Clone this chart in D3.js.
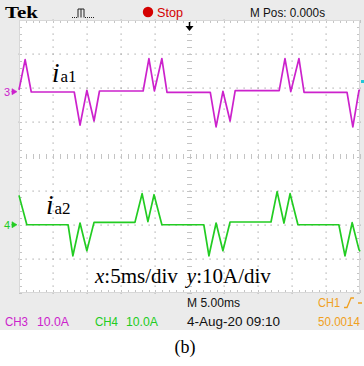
<!DOCTYPE html>
<html><head><meta charset="utf-8">
<script src="https://cdn.jsdelivr.net/npm/d3@7"></script>
<style>html,body{margin:0;padding:0;background:#fff;} svg{display:block;}</style>
</head><body>
<script>
// Horizontal: 5 ms/div over 10 divisions; vertical: 8 divisions
const timeTicks = [0, 5, 10, 15, 20, 25, 30, 35, 40, 45, 50];
const divTicks = [-4, -3, -2, -1, 0, 1, 2, 3, 4];

// CH3 trace, i_a1 (time in ms, current in A)
const ia1Time = [0, 0.9, 1.8, 2.0, 8.1, 8.95, 9.95, 11.0, 11.8, 12.0, 18.2, 19.05, 19.85, 20.95, 21.7, 22.0,
  28.05, 28.9, 29.9, 30.95, 31.7, 32.0, 38.15, 39.0, 39.85, 41.05, 41.8, 42.0, 48.1, 48.95, 49.85, 50];
const ia1Amp = [0.5, 9.4, -0.1, -0.1, -0.1, -9.8, 0.4, -8.6, 0.2, 0.2, 0.2, 9.7, 0.2, 9.7, -0.2, -0.2,
  -0.2, -10.3, 0.1, -8.6, 0.3, 0.3, 0.3, 9.7, 0, 9.7, -0.2, -0.2, -0.2, -10.3, 0.4, 0.3];

// CH4 trace, i_a2 (time in ms, current in A)
const ia2Time = [0, 1.15, 7.2, 7.9, 8.95, 9.95, 11.0, 17.0, 18.05, 18.9, 19.8, 20.95, 27.1, 27.85, 28.9, 29.9, 30.95,
  36.95, 37.85, 38.85, 39.75, 40.9, 46.9, 47.8, 48.85, 49.85, 50];
const ia2Amp = [8.6, 0, 0, -9.1, 0.5, -7.6, 0.7, 0.7, 9.1, 0.9, 8.8, 0, 0, -9.1, 0.5, -7.6, 0.8,
  0.8, 9.7, 0.5, 9.1, 0, 0, -9.1, 0.6, -7.3, -7.8];

const channelNames = ["CH3", "CH4"];
const channelAmpsPerDiv = [10, 10];
const channelPosition = [1.9, -2.0];
const channelColors = ["#cc22cc", "#22cc22"];

const W = 364, H = 366;
const svg = d3.select("body").append("svg").attr("width", W).attr("height", H);

// Instrument panel background
svg.append("rect").attr("x", 0).attr("y", 0).attr("width", W).attr("height", 330).attr("fill", "#ebebeb");

const x = d3.scaleLinear().domain([0, 50]).range([19, 360]);
const y = d3.scaleLinear().domain([-4, 4]).range([293, 20]);

svg.append("rect").attr("x", x(0)).attr("y", y(4)).attr("width", x(50) - x(0)).attr("height", y(-4) - y(4)).attr("fill", "#fff");

const grid = svg.append("g");
const minorT = d3.range(0, 50.001, 1);
const minorD = d3.range(-4, 4.001, 0.2);
const dotCol = "#a8a8a8", tickCol = "#c4c4c4";

// Dotted major lines
timeTicks.slice(1, -1).filter(t => t !== 25).forEach(t => {
  minorD.forEach(d => grid.append("rect").attr("x", Math.round(x(t)) - 0.5).attr("y", Math.round(y(d)) - 0.5)
    .attr("width", 1.2).attr("height", 1.2).attr("fill", dotCol));
});
divTicks.slice(1, -1).filter(d => d !== 0).forEach(d => {
  minorT.forEach(t => grid.append("rect").attr("x", Math.round(x(t)) - 0.5).attr("y", Math.round(y(d)) - 0.5)
    .attr("width", 1.2).attr("height", 1.2).attr("fill", dotCol));
});

// Centre cross with minor ticks
minorD.forEach(d => grid.append("line").attr("x1", x(25) - 2.5).attr("x2", x(25) + 2.5)
  .attr("y1", Math.round(y(d)) + 0.5).attr("y2", Math.round(y(d)) + 0.5).attr("stroke", tickCol));
minorT.forEach(t => grid.append("line").attr("x1", Math.round(x(t)) + 0.5).attr("x2", Math.round(x(t)) + 0.5)
  .attr("y1", y(0) - 2.5).attr("y2", y(0) + 2.5).attr("stroke", tickCol));

// Frame ticks
minorT.forEach(t => {
  const xx = Math.round(x(t)) + 0.5;
  grid.append("line").attr("x1", xx).attr("x2", xx).attr("y1", y(4)).attr("y2", y(4) + 3).attr("stroke", tickCol);
  grid.append("line").attr("x1", xx).attr("x2", xx).attr("y1", y(-4) - 3).attr("y2", y(-4)).attr("stroke", tickCol);
});
minorD.forEach(d => {
  const yy = Math.round(y(d)) + 0.5;
  grid.append("line").attr("x1", x(0)).attr("x2", x(0) + 3).attr("y1", yy).attr("y2", yy).attr("stroke", tickCol);
  grid.append("line").attr("x1", x(50) - 3).attr("x2", x(50)).attr("y1", yy).attr("y2", yy).attr("stroke", tickCol);
});
grid.append("rect").attr("x", x(0) + 0.5).attr("y", y(4) + 0.5).attr("width", x(50) - x(0) - 1).attr("height", y(-4) - y(4) - 1)
  .attr("fill", "none").attr("stroke", "#d8d8d8");

// Traces
const traces = [
  ia1Time.map((t, i) => ({ t, a: ia1Amp[i] })),
  ia2Time.map((t, i) => ({ t, a: ia2Amp[i] }))
];
traces.forEach((data, c) => {
  const line = d3.line().x(d => x(d.t)).y(d => y(d.a / channelAmpsPerDiv[c] + channelPosition[c]));
  svg.append("path").datum(data).attr("d", line).attr("fill", "none")
    .attr("stroke", channelColors[c]).attr("stroke-width", 1.7).attr("stroke-linejoin", "round");
  // channel ground marker
  const yy = y(channelPosition[c]);
  svg.append("text").attr("x", 4).attr("y", yy + 4).attr("font-family", "Liberation Sans, Arial, sans-serif")
    .attr("font-size", 11).attr("fill", channelColors[c]).text(channelNames[c].slice(2));
  svg.append("path").attr("d", `M12,${yy - 3}L17,${yy}L12,${yy + 3}Z M11,${yy}H13`).attr("fill", channelColors[c])
    .attr("stroke", channelColors[c]).attr("stroke-width", 0.6);
});

// Trigger position arrow and level marker
svg.append("path").attr("d", `M${x(25)},${y(4) + 2}V${y(4) + 7}`).attr("stroke", "#000").attr("stroke-width", 1.5);
svg.append("path").attr("d", `M${x(25) - 4},${y(4) + 6}H${x(25) + 4}L${x(25)},${y(4) + 11}Z`).attr("fill", "#000");
svg.append("rect").attr("x", 361).attr("y", 80).attr("width", 3).attr("height", 3).attr("fill", "#22c8d8");

// Header
const sans = "Liberation Sans, Arial, sans-serif";
const serif = "Liberation Serif, Times New Roman, serif";
svg.append("text").attr("x", 5).attr("y", 18).attr("font-family", serif).attr("font-weight", "bold")
  .attr("font-size", 17).attr("textLength", 33).attr("lengthAdjust", "spacingAndGlyphs").text("Tek");
svg.append("path").attr("d", "M72,17.5H73M74,17.5H75M76,17.5H77M78,17.5V9H81V17.5M81,9H84V17.5M85,17.5H86M87,17.5H88M89,17.5H90M91,17.5H92M93,17.5H94")
  .attr("fill", "none").attr("stroke", "#222").attr("stroke-width", 1);
svg.append("circle").attr("cx", 148).attr("cy", 12).attr("r", 5.2).attr("fill", "#d40000");
svg.append("text").attr("x", 157).attr("y", 17).attr("font-family", sans).attr("font-size", 12.5).attr("fill", "#d40000")
  .attr("textLength", 26).attr("lengthAdjust", "spacingAndGlyphs").text("Stop");
svg.append("text").attr("x", 250).attr("y", 17).attr("font-family", sans).attr("font-size", 12.5).attr("fill", "#111")
  .attr("textLength", 75).attr("lengthAdjust", "spacingAndGlyphs").text("M Pos: 0.000s");

// Footer readouts
const foot = [
  { x: 187, y: 307, w: 53, c: "#111", t: "M 5.00ms" },
  { x: 318, y: 307, w: 22, c: "#f0a020", t: "CH1" },
  { x: 5, y: 326, w: 23, c: channelColors[0], t: channelNames[0] },
  { x: 37, y: 326, w: 32, c: channelColors[0], t: "10.0A" },
  { x: 95, y: 326, w: 23, c: channelColors[1], t: channelNames[1] },
  { x: 126, y: 326, w: 32, c: channelColors[1], t: "10.0A" },
  { x: 187, y: 326, w: 93, c: "#111", t: "4-Aug-20 09:10" },
  { x: 318, y: 326, w: 42, c: "#f0a020", t: "50.0014" }
];
foot.forEach(f => svg.append("text").attr("x", f.x).attr("y", f.y).attr("font-family", sans).attr("font-size", 12.5)
  .attr("fill", f.c).attr("textLength", f.w).attr("lengthAdjust", "spacingAndGlyphs").text(f.t));
svg.append("path").attr("d", "M344,307.5H347L351,298H354M358,303H362").attr("fill", "none").attr("stroke", "#f0a020").attr("stroke-width", 1.3);
// right edge strip
svg.append("rect").attr("x", 360).attr("y", 0).attr("width", 4).attr("height", 330).attr("fill", "#ebebeb").lower();

// Trace labels and scale note
function label(xp, yp, sub) {
  const t = svg.append("text").attr("x", xp).attr("y", yp).attr("font-family", serif);
  t.append("tspan").attr("font-style", "italic").attr("font-size", 27).text("i");
  t.append("tspan").attr("font-size", 17).attr("dx", 1).text(sub);
}
label(52, 82, "a1");
label(46, 214, "a2");
const note = svg.append("text").attr("x", 95).attr("y", 283).attr("font-family", serif).attr("font-size", 21);
note.append("tspan").attr("font-style", "italic").text("x");
note.append("tspan").text(":5ms/div");
note.append("tspan").attr("font-style", "italic").attr("dx", 9).text("y");
note.append("tspan").text(":10A/div");

svg.append("text").attr("x", 185).attr("y", 353).attr("text-anchor", "middle").attr("font-family", serif)
  .attr("font-size", 18).text("(b)");
</script>
</body></html>
